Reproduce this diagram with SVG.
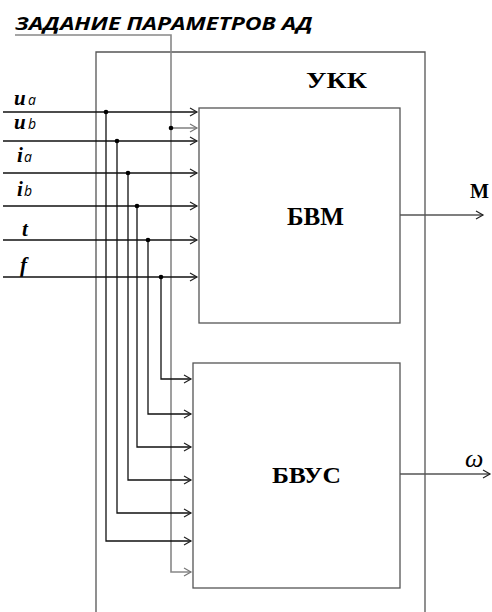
<svg xmlns="http://www.w3.org/2000/svg" width="492" height="612" viewBox="0 0 492 612">
<defs>
<marker id="ar" markerWidth="10" markerHeight="10" refX="8" refY="5" orient="auto" markerUnits="userSpaceOnUse">
<path d="M1,1 L8,5 L1,9" fill="none" stroke="#222" stroke-width="1.2"/>
</marker>
<marker id="arg" markerWidth="10" markerHeight="10" refX="8" refY="5" orient="auto" markerUnits="userSpaceOnUse">
<path d="M1,1 L8,5 L1,9" fill="none" stroke="#777" stroke-width="1.2"/>
</marker>
</defs>
<style>
.box{fill:none;stroke:#555;stroke-width:1.3}
.w{fill:none;stroke:#111;stroke-width:1.3}
.g{fill:none;stroke:#888;stroke-width:1.6}
.dot{fill:#000}
.lbl{font-family:"Liberation Serif",serif;font-weight:bold;fill:#000}
.var{font-family:"Liberation Serif",serif;font-weight:bold;font-style:italic;font-size:21px;fill:#000}
.sub{font-family:"Open Sans","Liberation Sans",sans-serif;font-style:italic;font-size:14px;fill:#000}
</style>
<rect width="492" height="612" fill="#fff"/>
<text x="15" y="30" font-family="'Open Sans','Liberation Sans',sans-serif" font-weight="bold" font-style="italic" font-size="17.5" textLength="298" lengthAdjust="spacingAndGlyphs">ЗАДАНИЕ ПАРАМЕТРОВ АД</text>
<g id="ukk">
<path class="box" d="M96,612 V52 H425 V612"/>
<text class="lbl" x="306" y="88" font-size="23.5" textLength="61" lengthAdjust="spacingAndGlyphs">УКК</text>
</g>
<g id="bvm">
<rect class="box" x="199" y="108" width="201" height="215"/>
<text class="lbl" x="287" y="225" font-size="26" textLength="57" lengthAdjust="spacingAndGlyphs">БВМ</text>
</g>
<g id="bvus">
<rect class="box" x="193" y="363" width="207" height="225"/>
<text class="lbl" x="272" y="483" font-size="22.5" textLength="69" lengthAdjust="spacingAndGlyphs">БВУС</text>
</g>
<g id="labels">
<text class="var" x="14" y="105">u</text><text class="sub" x="28" y="105">a</text>
<text class="var" x="14" y="129">u</text><text class="sub" x="28" y="129">b</text>
<text class="var" x="17" y="162">i</text><text class="sub" x="24" y="162">a</text>
<text class="var" x="17" y="196">i</text><text class="sub" x="24" y="196">b</text>
<text class="var" x="22" y="236">t</text>
<text class="var" x="20" y="272">f</text>
<text class="lbl" x="470" y="198" font-size="22" textLength="19" lengthAdjust="spacingAndGlyphs">М</text>
<text x="465" y="467" font-family="'Liberation Serif',serif" font-style="italic" font-size="26">ω</text>
</g>
<g id="connectors">
<path class="g" d="M15,35 H171 V572 H191" marker-end="url(#arg)"/>
<path class="g" d="M171,128 H197" marker-end="url(#arg)"/>
<path class="w" d="M3,112 H197" marker-end="url(#ar)"/>
<path class="w" d="M3,141 H197" marker-end="url(#ar)"/>
<path class="w" d="M3,173 H197" marker-end="url(#ar)"/>
<path class="w" d="M3,206 H197" marker-end="url(#ar)"/>
<path class="w" d="M3,240 H197" marker-end="url(#ar)"/>
<path class="w" d="M3,277 H197" marker-end="url(#ar)"/>
<path class="w" d="M106,112 V541 H191" marker-end="url(#ar)"/>
<path class="w" d="M117,141 V513 H191" marker-end="url(#ar)"/>
<path class="w" d="M128,173 V480 H191" marker-end="url(#ar)"/>
<path class="w" d="M137,206 V447 H191" marker-end="url(#ar)"/>
<path class="w" d="M148,240 V414 H191" marker-end="url(#ar)"/>
<path class="w" d="M161,277 V379 H191" marker-end="url(#ar)"/>
<path class="box" d="M400,215 H483" marker-end="url(#ar)"/>
<path class="box" d="M400,474 H490" marker-end="url(#ar)"/>
<circle class="dot" cx="171" cy="128" r="2.3"/>
<circle class="dot" cx="106" cy="112" r="2.3"/>
<circle class="dot" cx="117" cy="141" r="2.3"/>
<circle class="dot" cx="128" cy="173" r="2.3"/>
<circle class="dot" cx="137" cy="206" r="2.3"/>
<circle class="dot" cx="148" cy="240" r="2.3"/>
<circle class="dot" cx="161" cy="277" r="2.3"/>
</g>
</svg>
